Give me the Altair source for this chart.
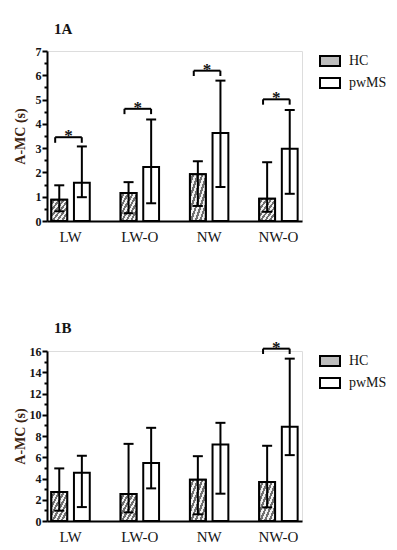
import altair as alt
import pandas as pd

categories = ["LW", "LW-O", "NW", "NW-O"]
groups = ["HC", "pwMS"]

# Panel 1A values (seconds)
a_hc_mean = [0.88, 1.15, 1.92, 0.92]
a_hc_low = [0.40, 0.32, 0.62, 0.38]
a_hc_high = [1.47, 1.60, 2.46, 2.42]
a_pw_mean = [1.58, 2.22, 3.62, 2.98]
a_pw_low = [0.98, 0.73, 1.40, 1.12]
a_pw_high = [3.07, 4.18, 5.78, 4.57]
a_sig_cats = ["LW", "LW-O", "NW", "NW-O"]
a_sig_top = [3.45, 4.62, 6.19, 5.01]
a_sig_leg = [3.22, 4.40, 5.97, 4.79]

# Panel 1B values (seconds)
b_hc_mean = [2.72, 2.54, 3.88, 3.66]
b_hc_low = [0.97, 0.81, 0.63, 1.28]
b_hc_high = [4.95, 7.26, 6.10, 7.08]
b_pw_mean = [4.54, 5.45, 7.20, 8.86]
b_pw_low = [1.31, 3.07, 2.57, 6.20]
b_pw_high = [6.14, 8.77, 9.24, 15.28]
b_sig_cats = ["NW-O"]
b_sig_top = [16.22]
b_sig_leg = [15.72]

SERIF = "'Liberation Serif', 'Times New Roman', 'DejaVu Serif', serif"
TXT = "#141414"
HC_FILL = "#bdbdbd"

# diagonal hatching for the HC bars, as a striped gradient
N_STRIPES = 7
stops = []
for k in range(N_STRIPES):
    a = k / N_STRIPES
    m = (k + 0.5) / N_STRIPES
    b = (k + 1) / N_STRIPES
    stops += [alt.GradientStop(offset=a, color="#f2f2f2"), alt.GradientStop(offset=m, color="#f2f2f2"),
              alt.GradientStop(offset=m, color="#707070"), alt.GradientStop(offset=b, color="#707070")]
HATCH = alt.Gradient(gradient="linear", stops=stops, x1=0, y1=0, x2=1, y2=1)


def panel(label, hc_m, hc_l, hc_h, pw_m, pw_l, pw_h, s_cats, s_top, s_leg,
          ymax, tick_vals, label_mod, title_offset):
    rows = []
    for i, c in enumerate(categories):
        rows.append({"cat": c, "group": "HC", "mean": hc_m[i], "low": hc_l[i], "high": hc_h[i]})
        rows.append({"cat": c, "group": "pwMS", "mean": pw_m[i], "low": pw_l[i], "high": pw_h[i]})
    df = pd.DataFrame(rows)
    sdf = pd.DataFrame({"cat": s_cats, "top": s_top, "leg": s_leg})

    xscale = alt.Scale(domain=categories, paddingInner=0.4, paddingOuter=0.04)
    yscale = alt.Scale(domain=[0, ymax], nice=False)
    xaxis = alt.Axis(title=None, labelAngle=0, ticks=False, domainColor="black",
                     domainWidth=2, labelFont=SERIF, labelFontSize=15,
                     labelColor=TXT, labelPadding=8, grid=False)
    yaxis = alt.Axis(title="A-MC (s)", values=tick_vals, labelOverlap=False,
                     labelExpr=f"datum.value % {label_mod} == 0 ? format(datum.value, 'd') : ''",
                     tickSize={"condition": {"test": f"datum.value % {label_mod} == 0", "value": 5}, "value": 3},
                     tickWidth=2, tickColor="black", domainColor="black", domainWidth=2,
                     labelFont=SERIF, labelFontWeight="bold", labelFontSize=12,
                     labelColor=TXT, labelPadding=1, grid=False,
                     titleFont=SERIF, titleFontWeight="bold", titleFontSize=14,
                     titleColor="#3b2412", titleX=-20)

    def X(bp=None):
        if bp is None:
            return alt.X("cat:N", sort=categories, scale=xscale, axis=xaxis)
        return alt.X("cat:N", sort=categories, scale=xscale, axis=xaxis, bandPosition=bp)

    def Y(field):
        return alt.Y(f"{field}:Q", scale=yscale, axis=yaxis)

    xoff = alt.XOffset("group:N", sort=groups,
                       scale=alt.Scale(domain=groups, paddingInner=0.3, paddingOuter=0.07))
    base = alt.Chart(df).encode(x=X(), xOffset=xoff)
    bars = base.mark_bar(stroke="black", strokeWidth=2).encode(
        y=Y("mean"),
        color=alt.Color("group:N", sort=groups,
                        scale=alt.Scale(domain=groups, range=[HC_FILL, "white"]),
                        legend=alt.Legend(orient="none", legendX=272, legendY=-1, title=None,
                                          symbolType="M-1,-0.5H1V0.5H-1Z", symbolSize=400,
                                          symbolStrokeColor="black", symbolStrokeWidth=2,
                                          symbolOpacity=1,
                                          labelFont=SERIF, labelFontSize=14, labelColor=TXT,
                                          labelOffset=8, rowPadding=2, padding=0)),
    )
    hatch = base.transform_filter(alt.datum.group == "HC").mark_bar(
        fill=HATCH, stroke="black", strokeWidth=2).encode(y=Y("mean"))
    err = base.mark_rule(color="black", strokeWidth=2).encode(y=Y("low"), y2="high:Q")
    cap_lo = base.mark_tick(color="black", thickness=2, size=10, opacity=1).encode(y=Y("low"))
    cap_hi = base.mark_tick(color="black", thickness=2, size=10, opacity=1).encode(y=Y("high"))

    sb = alt.Chart(sdf)
    hline = sb.mark_rule(color="black", strokeWidth=2).encode(
        x=X(0.13), x2=alt.X2("cat", bandPosition=0.77), y=Y("top"))
    leg_l = sb.mark_rule(color="black", strokeWidth=2).encode(
        x=X(0.13), y=Y("top"), y2="leg:Q")
    leg_r = sb.mark_rule(color="black", strokeWidth=2).encode(
        x=X(0.77), y=Y("top"), y2="leg:Q")
    star = sb.mark_text(text="*", font=SERIF, fontSize=17, fontWeight="bold",
                        color=TXT, baseline="alphabetic", dy=4).encode(
        x=X(0.45), y=Y("top"))

    return alt.layer(bars, hatch, err, cap_lo, cap_hi, hline, leg_l, leg_r, star).properties(
        width=255, height=170,
        title=alt.TitleParams(label, anchor="start", frame="group", dx=7,
                              font=SERIF, fontSize=15, fontWeight="bold", color=TXT,
                              offset=title_offset),
    )


pa = panel("1A", a_hc_mean, a_hc_low, a_hc_high, a_pw_mean, a_pw_low, a_pw_high,
           a_sig_cats, a_sig_top, a_sig_leg, 7, [i * 0.5 for i in range(15)], 1, 8)
pb = panel("1B", b_hc_mean, b_hc_low, b_hc_high, b_pw_mean, b_pw_low, b_pw_high,
           b_sig_cats, b_sig_top, b_sig_leg, 16, list(range(17)), 2, 3)

chart = alt.vconcat(pa, pb, spacing=75).resolve_scale(
    color="independent", x="independent", y="independent", xOffset="independent"
).resolve_legend(color="independent").configure_view(strokeWidth=0).configure(
    background="white", padding={"left": 4, "top": 13, "right": 0, "bottom": 2})

chart.save("out.html", embed_options={"renderer": "svg", "actions": False})
